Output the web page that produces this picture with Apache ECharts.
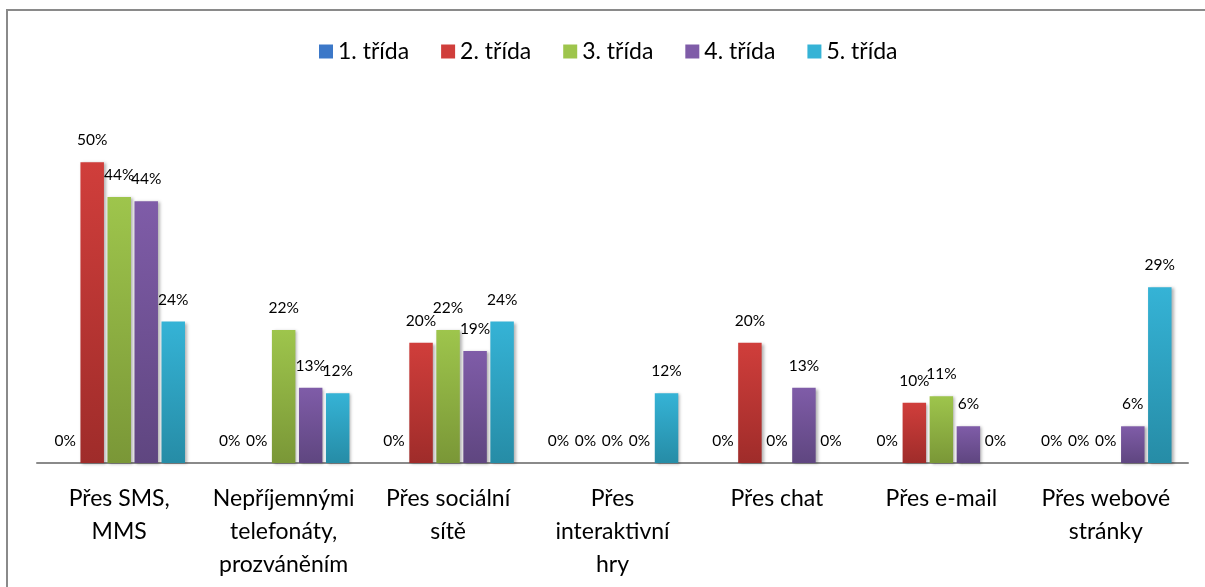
<!DOCTYPE html>
<html>
<head>
<meta charset="utf-8">
<script src="https://cdn.jsdelivr.net/npm/echarts@6/dist/echarts.min.js"></script>
<style>
  html, body { margin: 0; padding: 0; background: #fff; }
  #chart { width: 1205px; height: 587px; }
</style>
</head>
<body>
<div id="chart"></div>
<script>
// kategorie a hodnoty (v %)
var categories = [
  'Přes SMS,\nMMS',
  'Nepříjemnými\ntelefonáty,\nprozváněním',
  'Přes sociální\nsítě',
  'Přes\ninteraktivní\nhry',
  'Přes chat',
  'Přes e-mail',
  'Přes webové\nstránky'
]
var seriesNames = ['1. třída', '2. třída', '3. třída', '4. třída', '5. třída']
var trida1 = [0, 0, 0, 0, 0, 0, 0]
var trida2 = [50, 0, 20, 0, 20, 10, 0]
var trida3 = [44.2, 22.1, 22.1, 0, 0, 11.1, 0]
var trida4 = [43.5, 12.5, 18.6, 0, 12.5, 6.1, 6.1]
var trida5 = [23.5, 11.6, 23.5, 11.6, 0, 0, 29.2]

// barvy: [horní, dolní]
var colors = [
  ['#3c78c8', '#2b5b9a'],
  ['#d03e3b', '#9f2c2a'],
  ['#9ec54c', '#7a9737'],
  ['#7f5ca8', '#5f4680'],
  ['#35b3d6', '#268ca6']
]

var font = 'Lato, "Noto Sans", sans-serif'
var allData = [trida1, trida2, trida3, trida4, trida5]

var chart = echarts.init(document.getElementById('chart'))
chart.setOption({
  backgroundColor: '#fff',
  animation: false,
  graphic: [{
    type: 'rect',
    shape: { x: 7, y: 10, width: 1260, height: 640 },
    style: { fill: 'none', stroke: '#8a8a8a', lineWidth: 2 },
    z: -1
  }],
  legend: {
    top: 35,
    left: 314,
    itemWidth: 14,
    itemHeight: 14,
    itemGap: 32,
    textStyle: { fontFamily: font, fontSize: 23, color: '#000' },
    data: seriesNames.map(function (n, i) {
      return { name: n, icon: 'rect', itemStyle: { color: colors[i][0] } }
    })
  },
  grid: { left: 37, right: 17, top: 102, bottom: 124 },
  xAxis: {
    type: 'category',
    data: categories,
    axisLine: { lineStyle: { color: '#8a8a8a', width: 2 } },
    axisTick: { show: false },
    axisLabel: {
      interval: 0,
      margin: 19,
      fontFamily: font,
      fontSize: 23,
      lineHeight: 33,
      color: '#000'
    }
  },
  yAxis: {
    type: 'value',
    min: 0,
    max: 60,
    show: false,
    splitLine: { show: false }
  },
  series: allData.map(function (d, i) {
    return {
      name: seriesNames[i],
      type: 'bar',
      data: d,
      barGap: '15%',
      barCategoryGap: '20%',
      itemStyle: {
        color: new echarts.graphic.LinearGradient(0, 0, 0, 1, [
          { offset: 0, color: colors[i][0] },
          { offset: 1, color: colors[i][1] }
        ]),
        shadowColor: 'rgba(0,0,0,0.3)',
        shadowBlur: 3,
        shadowOffsetX: 2,
        shadowOffsetY: 1
      },
      label: {
        show: true,
        position: 'top',
        distance: 14,
        fontFamily: font,
        fontSize: 15.5,
        color: '#000',
        formatter: function (p) { return Math.round(p.value) + '%' }
      }
    }
  })
})
</script>
</body>
</html>
